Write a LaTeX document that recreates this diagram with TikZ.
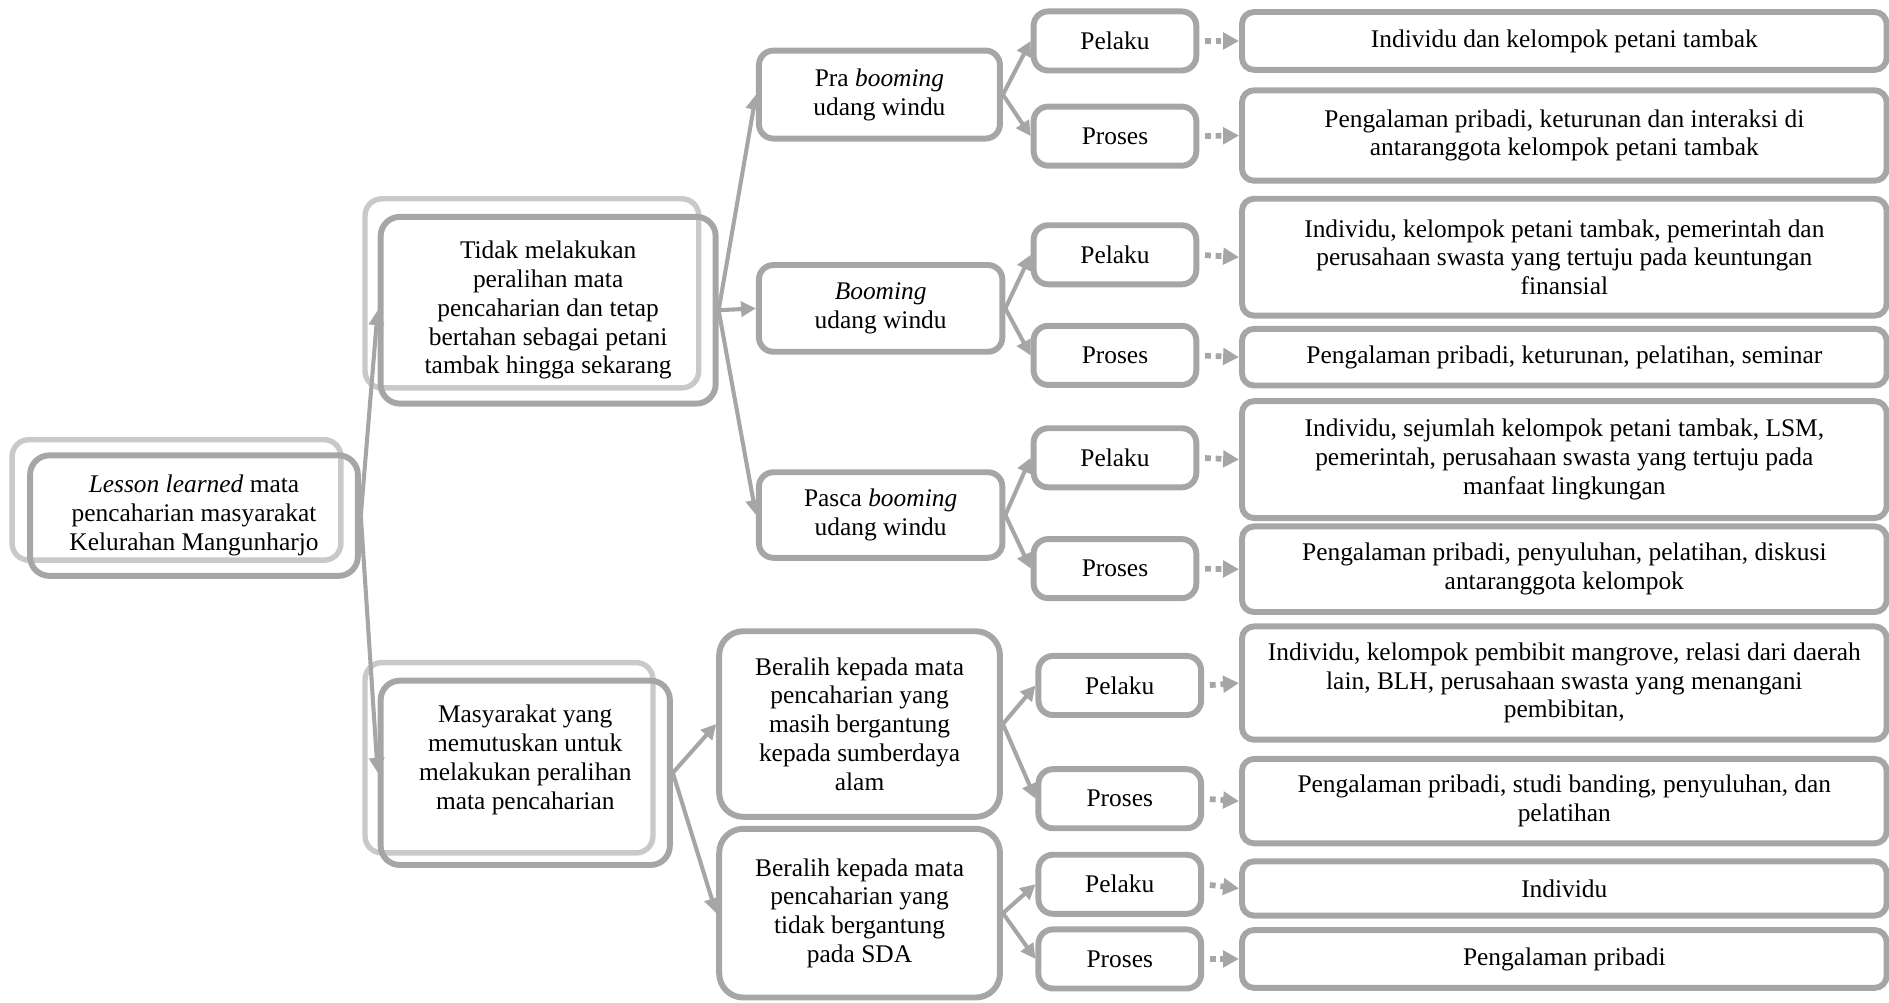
\documentclass[tikz,border=0pt]{standalone}
\usepackage{fontspec}
\setmainfont{Liberation Serif}
\usetikzlibrary{arrows.meta}
\definecolor{llGray}{HTML}{A6A6A6}
\definecolor{llPale}{HTML}{C9C9C9}
\tikzset{
  box/.style      ={draw=llGray,line width=3.5pt,rounded corners=0.3cm,align=center,inner sep=2pt},
  backbox/.style  ={draw=llPale,line width=3.2pt,rounded corners=0.35cm},
  mainbox/.style  ={box,rounded corners=0.4cm},
  stagebox/.style ={box,minimum width=5.05cm,minimum height=1.8cm},
  pathbox/.style  ={box,rounded corners=0.5cm,minimum width=5.825cm},
  subbox/.style   ={box,minimum width=3.375cm,minimum height=1.225cm},
  infobox/.style  ={box,rounded corners=0.25cm,minimum width=13.375cm},
  flow/.style     ={-{Triangle[length=0.31cm,width=0.31cm]},draw=llGray,line width=2.4pt},
  dotflow/.style  ={-{Triangle[length=0.33cm,width=0.34cm]},draw=llGray,line width=3.4pt,
                    dash pattern=on 0.12cm off 0.1cm,shorten <=0.12cm},
}

\begin{document}
\begin{tikzpicture}[x=0.025cm,y=-0.025cm,font=\fontsize{15}{17}\selectfont]
\useasboundingbox (0,0) rectangle (1568,832);

% first two levels, each with a pale box behind it
\draw[backbox] (10,365) rectangle (283,465);
\node[mainbox,minimum width=6.8cm,minimum height=2.5cm] (root) at (161,428)
  {\textit{Lesson learned} mata\\pencaharian masyarakat\\Kelurahan Mangunharjo};

\draw[backbox] (303,165) rectangle (580,322);
\node[mainbox,minimum width=6.95cm,minimum height=3.875cm] (stay) at (455,257.5)
  {Tidak melakukan\\peralihan mata\\pencaharian dan tetap\\bertahan sebagai petani\\tambak hingga sekarang};

\draw[backbox] (303,550) rectangle (542,708);
\node[mainbox,minimum width=6cm,minimum height=3.825cm,text depth=0.65cm] (shift) at (436,641.5)
  {Masyarakat yang\\memutuskan untuk\\melakukan peralihan\\mata pencaharian};

% periods and new livelihoods
\node[stagebox,minimum width=5cm,minimum height=1.825cm] (pra) at (730,78.5) {Pra \textit{booming}\\udang windu};
\node[stagebox] (boom) at (731,256) {\textit{Booming}\\udang windu};
\node[stagebox,minimum height=1.775cm] (pasca) at (731,427.5) {Pasca \textit{booming}\\udang windu};
\node[pathbox,minimum height=3.85cm] (sda) at (713.5,601)
  {Beralih kepada mata\\pencaharian yang\\masih bergantung\\kepada sumberdaya\\alam};
\node[pathbox,minimum height=3.5cm] (nonsda) at (713.5,758)
  {Beralih kepada mata\\pencaharian yang\\tidak bergantung\\pada SDA};

% actors / processes
\foreach \i/\x/\y/\t in {1/925.5/34/Pelaku, 2/925.5/113/Proses, 3/925.5/211.5/Pelaku, 4/925.5/295/Proses,
                         5/925.5/380/Pelaku, 6/925.5/472/Proses, 7/929.5/569/Pelaku, 8/929.5/663/Proses,
                         9/929.5/734/Pelaku, 10/929.5/796/Proses}
  \node[subbox] (s\i) at (\x,\y) {\t};

\foreach \i/\y/\h/\t in {
    1/34/1.2/{Individu dan kelompok petani tambak},
    2/112.5/1.875/{Pengalaman pribadi, keturunan dan interaksi di\\antaranggota kelompok petani tambak},
    3/213.5/2.425/{Individu, kelompok petani tambak, pemerintah dan\\perusahaan swasta yang tertuju pada keuntungan\\finansial},
    4/296.5/1.175/{Pengalaman pribadi, keturunan, pelatihan, seminar},
    5/381.5/2.425/{Individu, sejumlah kelompok petani tambak, LSM,\\pemerintah, perusahaan swasta yang tertuju pada\\manfaat lingkungan},
    6/472.5/1.775/{Pengalaman pribadi, penyuluhan, pelatihan, diskusi\\antaranggota kelompok},
    7/567/2.35/{Individu, kelompok pembibit mangrove, relasi dari daerah\\lain, BLH, perusahaan swasta yang menangani\\pembibitan,},
    8/665/1.75/{Pengalaman pribadi, studi banding, penyuluhan, dan\\pelatihan},
    9/737.5/1.125/{Individu},
    10/796/1.2/{Pengalaman pribadi}}
  \node[infobox,minimum height=\h cm] (d\i) at (1298.5,\y) {\t};

% connectors
\foreach \b in {stay,shift} \draw[flow] (root.east) -- (\b.west);
\foreach \b in {pra,boom,pasca} \draw[flow] (stay.east) -- (\b.west);
\foreach \b in {sda,nonsda} \draw[flow] (shift.east) -- (\b.west);
\foreach \src/\i/\j in {pra/1/2, boom/3/4, pasca/5/6, sda/7/8, nonsda/9/10}
  { \draw[flow] (\src.east) -- (s\i.west);
    \draw[flow] (\src.east) -- (s\j.west); }
\foreach \i in {1,...,10} \draw[dotflow] (s\i.east) -- (d\i.west);
\end{tikzpicture}
\end{document}
